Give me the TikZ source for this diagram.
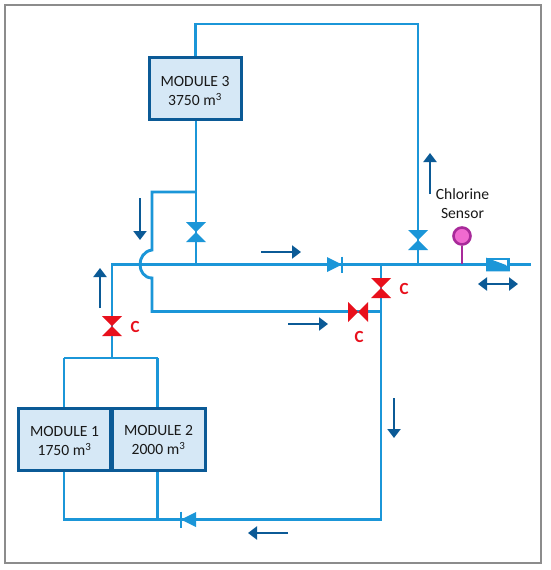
\documentclass[tikz,border=0pt]{standalone}
\usepackage{fontspec}
\setmainfont{Carlito}
\usetikzlibrary{arrows.meta}
\definecolor{pipe}{HTML}{1B96D8}
\definecolor{dark}{HTML}{0B5A96}
\definecolor{modfill}{HTML}{D6E8F6}
\definecolor{redv}{HTML}{E8101C}
\definecolor{sens}{HTML}{F06AD0}
\definecolor{sensl}{HTML}{A82A9A}
\tikzset{
  x=1pt,y=-1pt,
  pipeline/.style={draw=pipe,line width=2.9pt,line join=miter},
  flow/.style={draw=dark,line width=2.8pt,-{Triangle[length=9pt,width=13pt]}},
  flowtwo/.style={draw=dark,line width=2.8pt,{Triangle[length=9pt,width=13pt]}-{Triangle[length=9pt,width=13pt]}},
  module/.style={draw=dark,line width=3pt,fill=modfill,minimum width=92pt,minimum height=62pt,inner sep=0pt,align=center,font=\fontsize{15.6}{19}\selectfont,text=black!90},
  clabel/.style={text=redv,font=\fontsize{17}{17}\selectfont\bfseries,inner sep=0pt},
  txt/.style={text=black!90,font=\fontsize{15.6}{18.5}\selectfont,align=center,inner sep=0pt},
}
\newcommand{\valveV}[2]{\fill[#2] (#1)++(-10,-10)--++(20,0)--++(-20,20)--++(20,0)--cycle;}
\newcommand{\valveH}[2]{\fill[#2] (#1)++(-10,-10)--++(0,20)--++(20,-20)--++(0,20)--cycle;}
\newcommand{\lowered}{\rule{0pt}{15pt}}
\newcommand{\loweredless}{\rule{0pt}{13pt}}
\begin{document}
\begin{tikzpicture}
\useasboundingbox (0,0) rectangle (550,570);
\fill[white] (0,0) rectangle (550,570);
\node[draw=black!45,line width=1.2pt,minimum width=536pt,minimum height=558pt,inner sep=0pt] (frame) at (273,284) {};
% junctions
\coordinate (top1) at (195.5,24);
\coordinate (top2) at (418,24);
\coordinate (main3) at (196,264.5);
\coordinate (main4) at (418,264.5);
\coordinate (mainL) at (112,264.5);
\coordinate (mainR) at (531,264.5);
\coordinate (mainD) at (381,264.5);
\coordinate (by1) at (196,192);
\coordinate (by2) at (152,192);
\coordinate (by3) at (152,250);
\coordinate (by4) at (152,278);
\coordinate (by5) at (152,311.5);
\coordinate (by6) at (381,311.5);
\coordinate (man) at (112,358);
\coordinate (manL) at (64,358);
\coordinate (manR) at (157.5,358);
\coordinate (botL) at (64,519.5);
\coordinate (botM) at (157.5,519.5);
\coordinate (botR) at (381,519.5);
% modules
\node[module] (m3) at (195,88.5) {\lowered MODULE 3\\3750 m\textsuperscript{3}};
\node[module] (m1) at (64.5,439) {\lowered MODULE 1\\1750 m\textsuperscript{3}};
\node[module,minimum width=93pt] (m2) at (158.5,439) {\loweredless MODULE 2\\2000 m\textsuperscript{3}};
% pipes
\draw[pipeline] (m3.north -| top1) -- (top1) -- (top2) -- (main4);
\draw[pipeline] (m3.south -| main3) -- (main3);
\draw[pipeline] (by1) -- (by2) -- (by3) .. controls (144,251) and (140,258) .. (140,264.5) .. controls (140,271) and (144,278) .. (by4) -- (by5) -- (by6);
\draw[pipeline] (man) -- (mainL) -- (mainR);
\draw[pipeline] (manL) -- (manR);
\draw[pipeline] (m1.north -| manL) -- (manL);
\draw[pipeline] (m2.north -| manR) -- (manR);
\draw[pipeline] (m1.south -| botL) -- (botL) -- (botR) -- (mainD);
\draw[pipeline] (m2.south -| botM) -- (botM);
% valves
\coordinate (v3) at (196,232); \coordinate (v4) at (418,240);
\coordinate (r1) at (112,326); \coordinate (r2) at (381,288); \coordinate (r3) at (358,312);
\valveV{v3}{pipe}
\valveV{v4}{pipe}
\valveV{r1}{redv}
\valveV{r2}{redv}
\valveH{r3}{redv}
% check valves
\fill[pipe] (327,257)--(342,264.5)--(327,272)--cycle;
\draw[pipe,line width=2.6pt] (342,256.5)--(342,272.5);
\fill[pipe] (196,512)--(181,519.5)--(196,527)--cycle;
\draw[pipe,line width=2.6pt] (181,511.5)--(181,527.5);
% sensor
\node[circle,draw=sensl,fill=sens,line width=2.6pt,minimum size=17pt,inner sep=0pt] (sensor) at (462,236) {};
\draw[sensl,line width=2.6pt] (sensor) -- (462,264);
% flow meter
\node[draw=pipe,fill=white,line width=2.6pt,minimum width=21pt,minimum height=11pt,inner sep=0pt] (fm) at (498,264.5) {};
\fill[pipe] (fm.north west)--(fm.south west)--(fm.south east)--(506,265)--cycle;
% flow arrows
\draw[flow] (140,198)--(140,240);
\draw[flow] (100,308)--(100,268);
\draw[flow] (261,252)--(301,252);
\draw[flow] (288,324)--(328,324);
\draw[flow] (430,194)--(430,153);
\draw[flow] (394,398)--(394,438);
\draw[flow] (288,533)--(248,533);
\draw[flowtwo] (478,284)--(518,284);
% labels
\node[clabel] (c1) at (135,327) {C};
\node[clabel] (c2) at (404,289) {C};
\node[clabel] (c3) at (359,337) {C};
\node[txt] (st) at (462.5,203.5) {Chlorine\\Sensor};
\end{tikzpicture}
\end{document}
